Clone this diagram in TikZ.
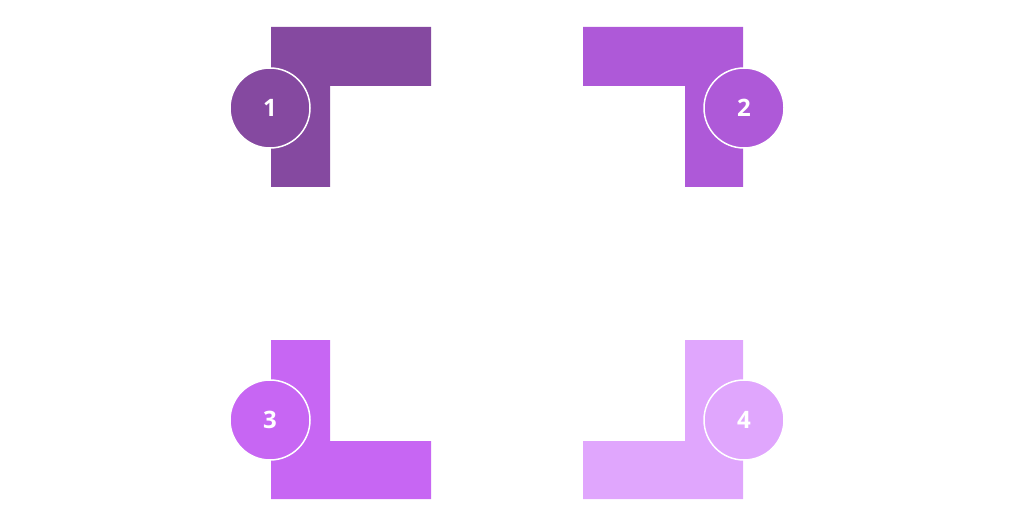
\documentclass[tikz,border=0pt]{standalone}
\usepackage{fontspec}
\setmainfont{Open Sans}
\usepackage{tikz}
\definecolor{lilaA}{HTML}{8549A0}
\definecolor{lilaB}{HTML}{AE59D8}
\definecolor{lilaC}{HTML}{C766F3}
\definecolor{lilaD}{HTML}{E0A6FD}

\begin{document}
\begin{tikzpicture}[x=1pt,y=-1pt]
  \tikzstyle{badge}=[circle, draw=white, line width=1.5pt, minimum size=80pt, inner sep=0pt, text=white, font=\fontsize{24}{24}\selectfont\bfseries]
  \useasboundingbox (0,0) rectangle (1024,526);
  \fill[lilaA] (271,27) -- (431,27) -- (431,86) -- (330,86) -- (330,187) -- (271,187) -- cycle;
  \fill[lilaB] (583,27) -- (743,27) -- (743,187) -- (685,187) -- (685,86) -- (583,86) -- cycle;
  \fill[lilaC] (271,340) -- (330,340) -- (330,441) -- (431,441) -- (431,499) -- (271,499) -- cycle;
  \fill[lilaD] (685,340) -- (743,340) -- (743,499) -- (583,499) -- (583,441) -- (685,441) -- cycle;
  \node[badge, fill=lilaA] (1) at (270,108) {1};
  \node[badge, fill=lilaB] (2) at (744,108) {2};
  \node[badge, fill=lilaC] (3) at (270,420) {3};
  \node[badge, fill=lilaD] (4) at (744,420) {4};
\end{tikzpicture}
\end{document}
